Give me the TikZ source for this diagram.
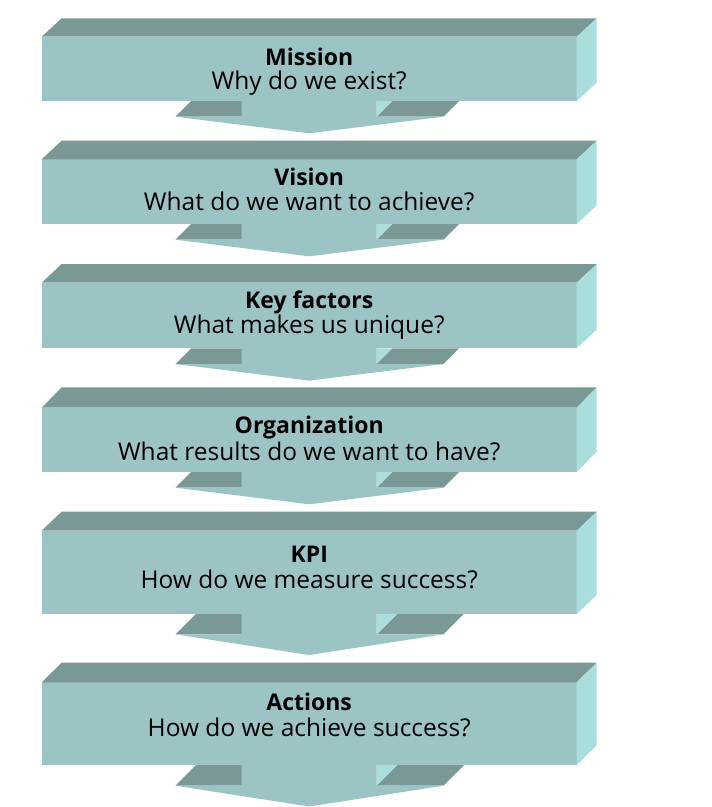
\documentclass[tikz,border=0pt]{standalone}
\usepackage{fontspec}
\setmainfont{Open Sans}
\definecolor{frontc}{RGB}{157,196,196}
\definecolor{topc}{RGB}{122,152,150}
\definecolor{sidec}{RGB}{170,222,221}
\newcommand{\stepblock}[4]{% #1 front top, #2 bottom, #3 back y, #4 name
  \fill[frontc] (41.7,#1) rectangle (576.7,#2);
  \fill[topc] (41.7,#1) -- (61.7,#3) -- (596.7,#3) -- (576.7,#1) -- cycle;
  \fill[sidec] (576.7,#1) -- (596.7,#3) -- ({596.7},{#2-(#1-#3)}) -- (576.7,#2) -- cycle;
  \coordinate (#4) at (309.2,{(#1+#2)/2});
}
\newcommand{\steparrow}[3]{% #1 block bottom, #2 wing front, #3 tip
  \pgfmathsetmacro{\dd}{#2-#1}
  \fill[topc] (175.5,#2) -- (241.7,#2) -- ({241.7+\dd},#1) -- ({175.5+\dd},#1) -- cycle;
  \fill[topc] (376.7,#2) -- (443.3,#2) -- ({443.3+\dd},#1) -- ({376.7+\dd},#1) -- cycle;
  \fill[sidec] (376.7,#2) -- (376.7,#1) -- ({376.7+\dd},#1) -- cycle;
  \fill[frontc] (241.7,{#1-1}) -- (241.7,#2) -- (175.5,#2) -- (309.2,#3) -- (443.3,#2) -- (376.7,#2) -- (376.7,{#1-1}) -- cycle;
}
\tikzset{
  titletext/.style={anchor=base, inner sep=0pt, font=\fontsize{23}{27}\selectfont\bfseries},
  subtext/.style={anchor=base, inner sep=0pt, font=\fontsize{24.5}{28}\selectfont}
}
\begin{document}
\begin{tikzpicture}[x=1pt,y=-1pt]
\useasboundingbox (0,0) rectangle (712,807);
\fill[white] (0,0) rectangle (712,807);
% arrows
\steparrow{101}{116.7}{133.3}
\steparrow{224}{239.7}{256.3}
\steparrow{348.3}{364}{380.6}
\steparrow{472}{487.7}{504.3}
\steparrow{614}{634.3}{655}
\steparrow{765}{785.7}{806.5}
% blocks
\stepblock{36.7}{101}{18.3}{b1}
\stepblock{159.3}{224}{140.7}{b2}
\stepblock{282.7}{348.3}{264}{b3}
\stepblock{407.7}{472}{387.3}{b4}
\stepblock{530.7}{614}{511.7}{b5}
\stepblock{682.3}{765}{662.7}{b6}
% texts
\node[titletext] (t1) at (309.2,65) {Mission};
\node[subtext] (s1) at (309.2,89.3) {Why do we exist?};
\node[titletext] (t2) at (309.2,185.7) {Vision};
\node[subtext] (s2) at (309.2,210) {What do we want to achieve?};
\node[titletext] (t3) at (309.2,308.3) {Key factors};
\node[subtext] (s3) at (309.2,333.3) {What makes us unique?};
\node[titletext] (t4) at (309.2,433.3) {Organization};
\node[subtext] (s4) at (309.2,460) {What results do we want to have?};
\node[titletext] (t5) at (309.2,562.7) {KPI};
\node[subtext] (s5) at (309.2,588.3) {How do we measure success?};
\node[titletext] (t6) at (309.2,710.7) {Actions};
\node[subtext] (s6) at (309.2,736.7) {How do we achieve success?};
\end{tikzpicture}
\end{document}
